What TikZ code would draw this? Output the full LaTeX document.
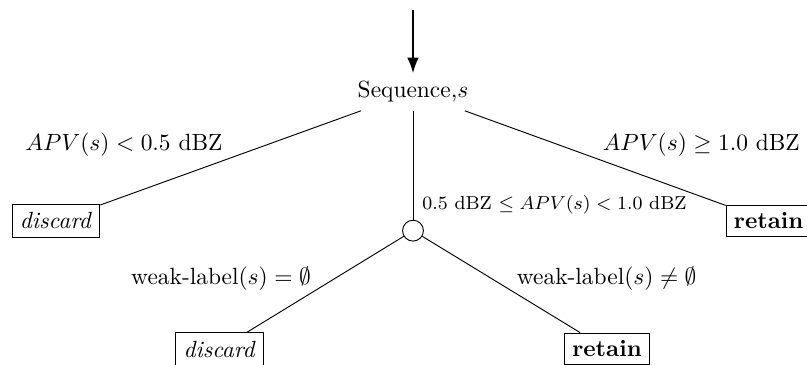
\documentclass[tikz,border=0pt]{standalone}
\usepackage{amsmath,amssymb}
\usepackage{tikz}
\usetikzlibrary{positioning, calc, arrows.meta}

\tikzset{
    leafbox/.style={draw, rectangle, inner sep=3.33pt},
    chance/.style={draw, circle, minimum size=8.9pt, inner sep=0pt},
    cond/.style={inner sep=0pt},
}

\begin{document}
\begin{tikzpicture}

    % --- FRAME ---
    \useasboundingbox (0,0) rectangle (12.105,5.46);

    % --- ROOT & INPUT ARROW ---
    \coordinate (in) at (6.195,5.31);
    \node (seq) at (6.195,4.08) {Sequence,$s$};
    \draw[thick, -{Latex}] (in) -- (seq);

    % --- FIRST LEVEL ---
    \node[leafbox] (discA) at (0.84,2.145) {\textit{discard}};
    \node[chance] (mid) at (6.195,2.0) {};
    \node[leafbox] (retA) at (11.53,2.145) {\textbf{retain}};

    \draw (seq) -- (discA);
    \draw (seq) -- (mid);
    \draw (seq) -- (retA);

    % --- SECOND LEVEL ---
    \node[leafbox] (discB) at (3.295,0.225) {\textit{discard}};
    \node[leafbox] (retB) at (9.105,0.225) {\textbf{retain}};

    \draw (mid) -- (discB);
    \draw (mid) -- (retB);

    % --- BRANCH CONDITIONS ---
    \node[cond] (cA) at (1.86,3.285) {$APV(s) < 0.5$ dBZ};
    \node[cond] (cB) at (10.52,3.285) {$APV(s) \geq 1.0$ dBZ};
    \node[cond, anchor=west, font=\footnotesize] (cM) at (6.33,2.385)
        {$0.5$ dBZ $\leq APV(s) < 1.0$ dBZ};
    \node[cond] (cD) at (3.315,1.275) {weak-label$(s) = \emptyset$};
    \node[cond] (cE) at (9.1,1.275) {weak-label$(s) \neq \emptyset$};

\end{tikzpicture}
\end{document}
